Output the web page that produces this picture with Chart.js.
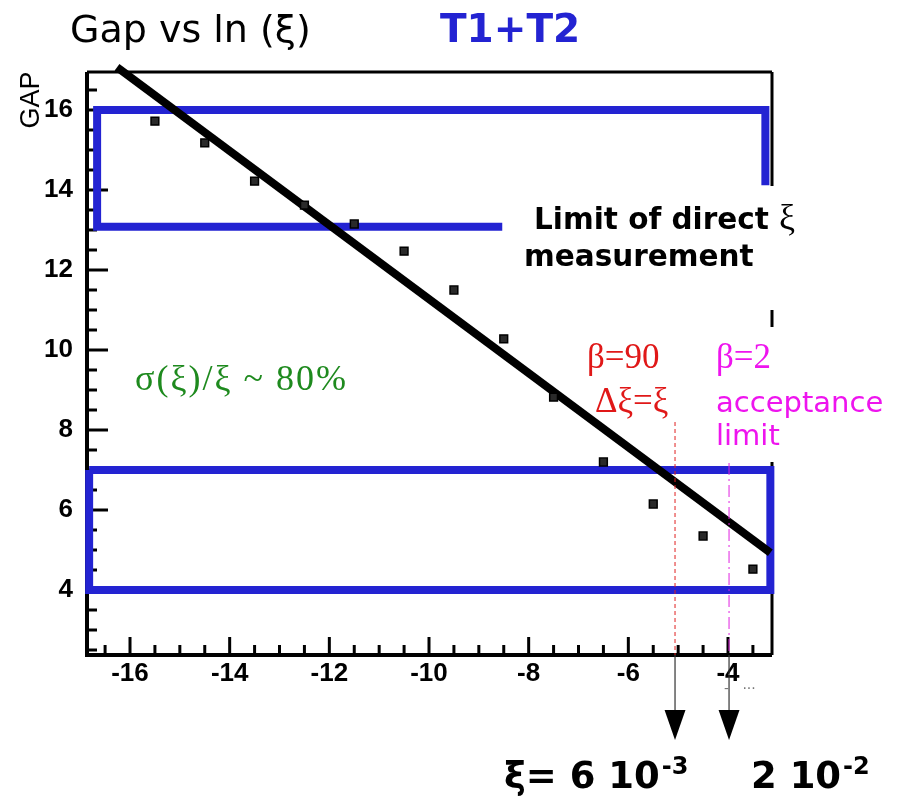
<!DOCTYPE html>
<html><head><meta charset="utf-8">
<script src="https://cdn.jsdelivr.net/npm/chart.js@4.4.1/dist/chart.umd.min.js"></script>
<style>html,body{margin:0;padding:0;background:#fff;}#wrap{width:909px;height:798px;position:relative;}</style>
</head><body><div id="wrap"><canvas id="c" width="909" height="798"></canvas></div>
<script>
// ---- data ----
const lnXi = [-15.5,-14.5,-13.5,-12.5,-11.5,-10.5,-9.5,-8.5,-7.5,-6.5,-5.5,-4.5,-3.5];
const gap  = [15.72,15.18,14.22,13.62,13.15,12.47,11.5,10.28,8.82,7.2,6.15,5.35,4.52];
const fitX = [-16.26,-3.15];
const fitY = [17.07,4.93];
const topBoxX = [-8.53,-16.66,-16.66,-3.25,-3.25];
const topBoxY = [13.08,13.08,16.0,16.0,14.12];
const lowBoxX = [-16.82,-3.15,-3.15,-16.82,-16.82];
const lowBoxY = [7.0,7.0,4.0,4.0,7.0];
const xTicks = [-16,-14,-12,-10,-8,-6,-4];
const yTicks = [4,6,8,10,12,14,16];
const xRange = [-16.863,-3.117];
const yRange = [2.375,16.95];
const betaX   = [-5.063,-3.979];
const betaTop = [8.2,7.175];

const pts = (xs,ys)=>xs.map((x,i)=>({x:x,y:ys[i]}));
const BLUE='#2323d2';
const TICKFONT='"Liberation Sans Narrow", "Liberation Sans"';

const deco = {
  id:'deco',
  beforeDatasetsDraw(chart){
    const c=chart.ctx, xs=chart.scales.x, ys=chart.scales.y, a=chart.chartArea;
    c.save();
    c.strokeStyle='#000'; c.lineCap='butt';
    c.lineWidth=4;
    c.beginPath(); c.moveTo(a.left,a.top); c.lineTo(a.left,a.bottom); c.lineTo(a.right,a.bottom); c.stroke();
    c.lineWidth=3;
    c.beginPath(); c.moveTo(a.left,a.top); c.lineTo(a.right,a.top); c.stroke();
    const seg=[[yRange[1],14.1],[11.0,10.575],[7.2,yRange[0]]];
    seg.forEach(s=>{c.beginPath();c.moveTo(a.right,ys.getPixelForValue(s[0]));c.lineTo(a.right,ys.getPixelForValue(s[1]));c.stroke();});
    c.lineWidth=3;
    for(let v=-16.5; v<=-3.5; v+=0.5){
      const px=xs.getPixelForValue(v); const major=Math.abs(v%2)<1e-6;
      const L=major?18:10;
      c.beginPath(); c.moveTo(px,a.bottom); c.lineTo(px,a.bottom-L); c.stroke();
    }
    for(let v=2.5; v<=16.5; v+=0.5){
      const py=ys.getPixelForValue(v); const major=Math.abs(v%2)<1e-6;
      const L=major?21:10;
      c.beginPath(); c.moveTo(a.left,py); c.lineTo(a.left+L,py); c.stroke();
    }
    c.restore();
  },
  afterDatasetsDraw(chart){
    const c=chart.ctx, xs=chart.scales.x, ys=chart.scales.y, a=chart.chartArea;
    c.save();
    const cols=['#e02020','#e020e0'];
    const dashes=[[4,3],[12,4,2,4]];
    betaX.forEach((bx,i)=>{
      const px=xs.getPixelForValue(bx);
      c.strokeStyle=cols[i]; c.lineWidth=1; c.setLineDash(dashes[i]);
      c.beginPath(); c.moveTo(px,ys.getPixelForValue(betaTop[i])); c.lineTo(px,a.bottom); c.stroke();
      c.setLineDash([]);
      c.strokeStyle='#333'; c.lineWidth=1.2;
      c.beginPath(); c.moveTo(px,a.bottom); c.lineTo(px,ys.getPixelForValue(1.0)); c.stroke();
      c.fillStyle='#000';
      c.beginPath();
      c.moveTo(xs.getPixelForValue(bx-0.21),ys.getPixelForValue(1.0));
      c.lineTo(xs.getPixelForValue(bx+0.21),ys.getPixelForValue(1.0));
      c.lineTo(px,ys.getPixelForValue(0.25));
      c.closePath(); c.fill();
    });
    c.textBaseline='alphabetic'; c.textAlign='left';
    c.fillStyle='#000'; c.font='38px "DejaVu Sans"';
    c.fillText('Gap vs ln (\u03BE)',70,42);
    c.fillStyle=BLUE; c.font='bold 39px "DejaVu Sans"';
    c.fillText('T1+T2',440,42);
    c.fillStyle='#000'; c.font='bold 29.5px "DejaVu Sans"';
    c.fillText('Limit of direct',534,229);
    c.fillText('measurement',524,266);
    c.font='36px "Liberation Serif"';
    c.fillText('\u03BE',779,229);
    c.fillStyle='#e01818'; c.font='35px "Liberation Serif"';
    c.fillText('\u03B2=90',587,368);
    c.fillText('\u0394\u03BE=\u03BE',595,412);
    c.fillStyle='#ee14ee';
    c.fillText('\u03B2=2',716,368);
    c.font='29px "DejaVu Sans"';
    c.fillText('acceptance',716,412);
    c.fillText('limit',716,445);
    c.fillStyle='#1e8a1e'; c.font='36px "Liberation Serif"';
    c.letterSpacing='2px';
    c.fillText('\u03C3(\u03BE)/\u03BE ~ 80%',135,390);
    c.letterSpacing='0px';
    c.fillStyle='#000'; c.font='bold 37px "DejaVu Sans"';
    let t1='\u03BE= 6 10'; c.fillText(t1,504,788);
    let w=c.measureText(t1).width;
    c.font='bold 24px "DejaVu Sans"'; c.fillText('-3',504+w+2,774);
    c.font='bold 37px "DejaVu Sans"';
    let t2='2 10'; c.fillText(t2,751,788);
    w=c.measureText(t2).width;
    c.font='bold 24px "DejaVu Sans"'; c.fillText('-2',751+w+2,774);
    c.fillStyle='#777'; c.font='14px "DejaVu Sans"';
    c.fillText('-   \u00B7\u00B7\u00B7',724,693);
    c.save(); c.translate(39,100); c.rotate(-Math.PI/2);
    c.fillStyle='#000'; c.font='27px "Liberation Sans"'; c.textAlign='center';
    c.fillText('GAP',0,0); c.restore();
    c.restore();
  }
};

new Chart(document.getElementById('c'),{
  type:'scatter',
  data:{datasets:[
    {label:'data',data:pts(lnXi,gap),pointStyle:'rect',pointRadius:5.5,pointBorderWidth:1.5,borderColor:'#000',backgroundColor:'#2a2a2a',showLine:false,order:0},
    {label:'fit',data:pts(fitX,fitY),showLine:true,borderColor:'#000',borderWidth:8,pointRadius:0,clip:false,order:1},
    {label:'top',data:pts(topBoxX,topBoxY),showLine:true,borderColor:BLUE,borderWidth:8,pointRadius:0,borderJoinStyle:'miter',clip:false,order:2},
    {label:'low',data:pts(lowBoxX,lowBoxY),showLine:true,borderColor:BLUE,borderWidth:8,pointRadius:0,borderJoinStyle:'miter',clip:false,order:3}
  ]},
  options:{
    responsive:false,animation:false,devicePixelRatio:1,
    layout:{padding:{top:72,right:137,left:0,bottom:0}},
    plugins:{legend:{display:false},tooltip:{enabled:false},title:{display:false}},
    scales:{
      x:{type:'linear',min:xRange[0],max:xRange[1],
         grid:{display:false},border:{display:false},
         afterBuildTicks:s=>{s.ticks=xTicks.map(v=>({value:v}));},
         afterFit:s=>{s.height=143;},
         ticks:{color:'#000',padding:-5,maxRotation:0,autoSkip:false,font:{family:TICKFONT,size:26,weight:'bold'}}},
      y:{type:'linear',min:yRange[0],max:yRange[1],
         grid:{display:false},border:{display:false},
         afterBuildTicks:s=>{s.ticks=yTicks.map(v=>({value:v}));},
         afterFit:s=>{s.width=87;},
         ticks:{color:'#000',padding:6,autoSkip:false,font:{family:TICKFONT,size:26,weight:'bold'}}}
    }
  },
  plugins:[deco]
});
</script></body></html>
